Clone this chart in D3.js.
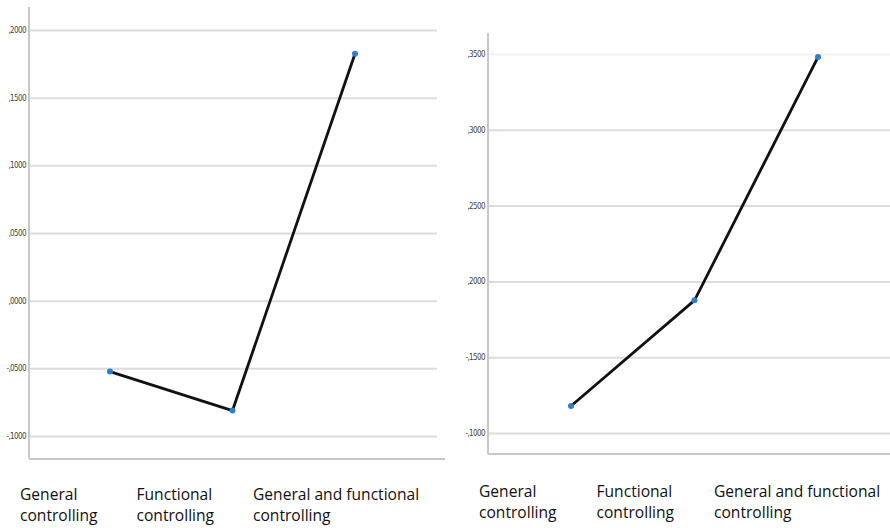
<!DOCTYPE html>
<html>
<head>
<meta charset="utf-8">
<script src="https://cdn.jsdelivr.net/npm/d3@7"></script>
<style>
  html, body { margin: 0; padding: 0; background: #fff; }
  svg { display: block; }
</style>
</head>
<body>
<svg id="chart" width="890" height="528"></svg>
<script>
// ---- data ----
const categories = ["General controlling", "Functional controlling", "General and functional controlling"];
const categoryLine1 = ["General", "Functional", "General and functional"];
const categoryLine2 = ["controlling", "controlling", "controlling"];

const leftValues = [-0.0524, -0.0812, 0.1824];
const leftTicks = [0.20, 0.15, 0.10, 0.05, 0.00, -0.05, -0.10];
const leftTickLabels = [",2000", ",1500", ",1000", ",0500", ",0000", "-,0500", "-,1000"];

const rightValues = [0.1178, 0.1875, 0.3480];
const rightTicks = [0.35, 0.30, 0.25, 0.20, 0.15, 0.10];
const rightTickLabels = [",3500", ",3000", ",2500", ",2000", "-,1500", "-,1000"];

const svg = d3.select("#chart");

function panel(cfg) {
  const g = svg.append("g");
  const y = d3.scaleLinear().domain(cfg.domain).range(cfg.yRange);
  const x = d3.scalePoint().domain(categories).range(cfg.xRange);
  const lx = d3.scalePoint().domain(categories).range(cfg.labelRange);

  // gridlines
  const gridAxis = d3.axisLeft(y).tickValues(cfg.ticks)
    .tickSize(-(cfg.gridEnd - cfg.axisX)).tickFormat((d, i) => cfg.labels[i]);
  const ga = g.append("g").attr("transform", `translate(${cfg.axisX},0)`).call(gridAxis);
  ga.select(".domain").remove();
  ga.selectAll(".tick line").attr("stroke", "#dcdcdc").attr("stroke-width", 2);
  ga.selectAll(".tick line").filter((d, i) => i === cfg.faintIndex).attr("stroke", "#f2f2f2");
  ga.selectAll(".tick text")
    .attr("x", -3)
    .attr("fill", "#444")
    .style("font-family", "'Liberation Sans Narrow', 'DejaVu Sans Condensed', sans-serif")
    .style("font-size", "8px")
    .style("letter-spacing", "-0.6px");

  // axis frame
  g.append("line").attr("x1", cfg.axisX).attr("x2", cfg.axisX)
    .attr("y1", cfg.axisTop).attr("y2", cfg.axisBottom)
    .attr("stroke", "#c8c8c8").attr("stroke-width", 2);
  g.append("line").attr("x1", cfg.axisX).attr("x2", cfg.bottomEnd)
    .attr("y1", cfg.axisBottom).attr("y2", cfg.axisBottom)
    .attr("stroke", "#c8c8c8").attr("stroke-width", 2);

  // line
  const line = d3.line().x((d, i) => x(categories[i])).y(d => y(d));
  g.append("path").datum(cfg.values).attr("d", line)
    .attr("fill", "none").attr("stroke", "#111").attr("stroke-width", 2.8)
    .attr("stroke-linejoin", "round");

  g.selectAll("circle.pt").data(cfg.values).join("circle")
    .attr("class", "pt")
    .attr("cx", (d, i) => x(categories[i]))
    .attr("cy", d => y(d))
    .attr("r", 3)
    .attr("fill", "#2a7fd0");

  // category labels
  const t = g.selectAll("text.cat").data(categories).join("text")
    .attr("class", "cat")
    .attr("x", d => lx(d))
    .attr("y", cfg.labelY)
    .attr("fill", "#111")
    .style("font-family", "'Open Sans', sans-serif")
    .style("font-size", "15.6px");
  t.append("tspan").attr("x", d => lx(d)).text((d, i) => categoryLine1[i]);
  t.append("tspan").attr("x", d => lx(d)).attr("dy", 21).text((d, i) => categoryLine2[i]);
}

panel({
  domain: [-0.10, 0.20], yRange: [436, 30],
  xRange: [110, 355], labelRange: [20, 253],
  ticks: leftTicks, labels: leftTickLabels,
  axisX: 29, axisTop: 7, axisBottom: 459, gridEnd: 437, bottomEnd: 445,
  values: leftValues, labelY: 500, faintIndex: -1
});

panel({
  domain: [0.10, 0.35], yRange: [433, 54],
  xRange: [571, 818], labelRange: [479, 714],
  ticks: rightTicks, labels: rightTickLabels,
  axisX: 488, axisTop: 33, axisBottom: 454, gridEnd: 890, bottomEnd: 890,
  values: rightValues, labelY: 497, faintIndex: 0
});
</script>
</body>
</html>
